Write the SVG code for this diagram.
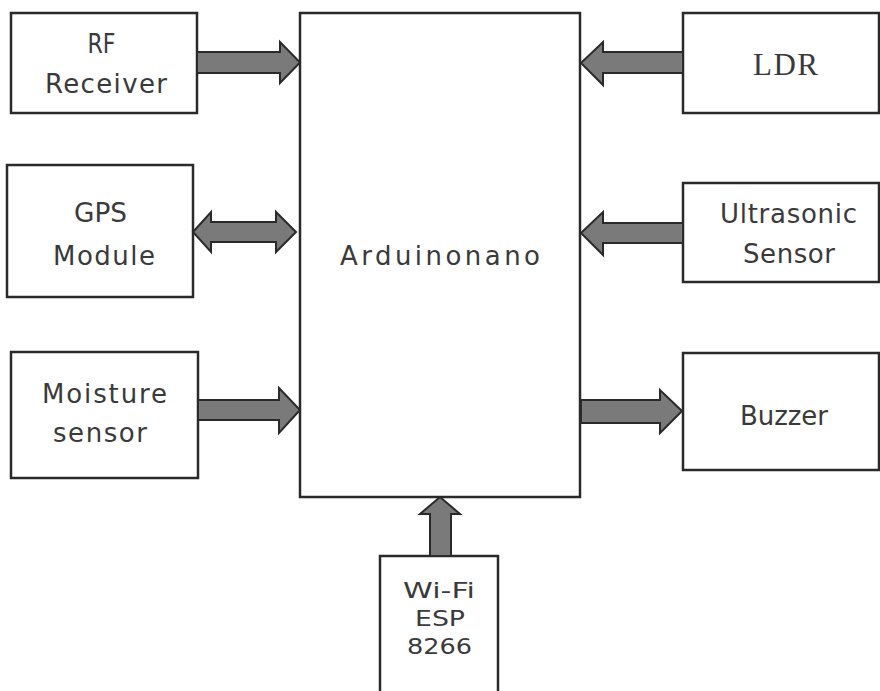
<svg xmlns="http://www.w3.org/2000/svg" width="880" height="691" viewBox="0 0 880 691">
<style>
.box{fill:#fff;stroke:#2a2a2a;stroke-width:2.5}
.arr{fill:#7a7a7a;stroke:#2a2a2a;stroke-width:2;stroke-linejoin:miter}
text{font-family:"DejaVu Sans","Liberation Sans",Arial,sans-serif;font-size:26px;fill:#3a3a3a;text-anchor:middle}
.serif{font-family:"Liberation Serif","Times New Roman",serif;font-size:31px}
.sm{font-size:22px}
</style>
<rect width="880" height="691" fill="#fff"/>
<g id="arduino">
<rect class="box" x="300" y="13" width="280" height="484" stroke-width="3"/>
<text x="440" y="265" textLength="200" lengthAdjust="spacing">Arduinonano</text>
</g>
<g id="rf">
<rect class="box" x="11" y="13" width="186" height="100"/>
<text x="101.5" y="53" textLength="28" lengthAdjust="spacingAndGlyphs">RF</text>
<text x="106" y="93" textLength="122" lengthAdjust="spacing">Receiver</text>
</g>
<g id="gps">
<rect class="box" x="7" y="165" width="186" height="132"/>
<text x="100.5" y="222" textLength="53" lengthAdjust="spacingAndGlyphs">GPS</text>
<text x="104" y="265" textLength="102" lengthAdjust="spacing">Module</text>
</g>
<g id="moisture">
<rect class="box" x="11" y="352" width="187" height="126"/>
<text x="104.5" y="403" textLength="125" lengthAdjust="spacing">Moisture</text>
<text x="100" y="442" textLength="94" lengthAdjust="spacing">sensor</text>
</g>
<g id="ldr">
<rect class="box" x="683" y="13" width="196" height="100"/>
<text class="serif" x="785.5" y="75" textLength="65" lengthAdjust="spacing">LDR</text>
</g>
<g id="ultrasonic">
<rect class="box" x="683" y="183" width="196" height="99"/>
<text x="788.5" y="223" textLength="137" lengthAdjust="spacing">Ultrasonic</text>
<text x="789" y="263" textLength="92" lengthAdjust="spacing">Sensor</text>
</g>
<g id="buzzer">
<rect class="box" x="683" y="353" width="196" height="117"/>
<text x="784" y="425" textLength="88" lengthAdjust="spacing">Buzzer</text>
</g>
<g id="wifi">
<rect class="box" x="380" y="556" width="118" height="150"/>
<text class="sm" x="439" y="598" textLength="72" lengthAdjust="spacingAndGlyphs">Wi-Fi</text>
<text class="sm" x="440" y="626" textLength="50" lengthAdjust="spacingAndGlyphs">ESP</text>
<text class="sm" x="439.5" y="654" textLength="65" lengthAdjust="spacingAndGlyphs">8266</text>
</g>
<g id="connectors">
<path class="arr" d="M197,52 H280 V42 L300,62.5 L280,83 V73 H197 Z"/>
<path class="arr" d="M193,232 L211,212 V222 H276 V212 L296,232 L276,252 V242 H211 V252 Z"/>
<path class="arr" d="M198,400 H279 V388 L300,410 L279,433 V420 H198 Z"/>
<path class="arr" d="M683,52 H603 V42 L581,63 L603,85 V73 H683 Z"/>
<path class="arr" d="M683,223 H603 V212 L581,233 L603,255 V243 H683 Z"/>
<path class="arr" d="M581,400 H660 V390 L682,411 L660,433 V423 H581 Z"/>
<path class="arr" d="M430,556 V514 H420 L440,497 L460,514 H451 V556 Z"/>
</g>
</svg>
